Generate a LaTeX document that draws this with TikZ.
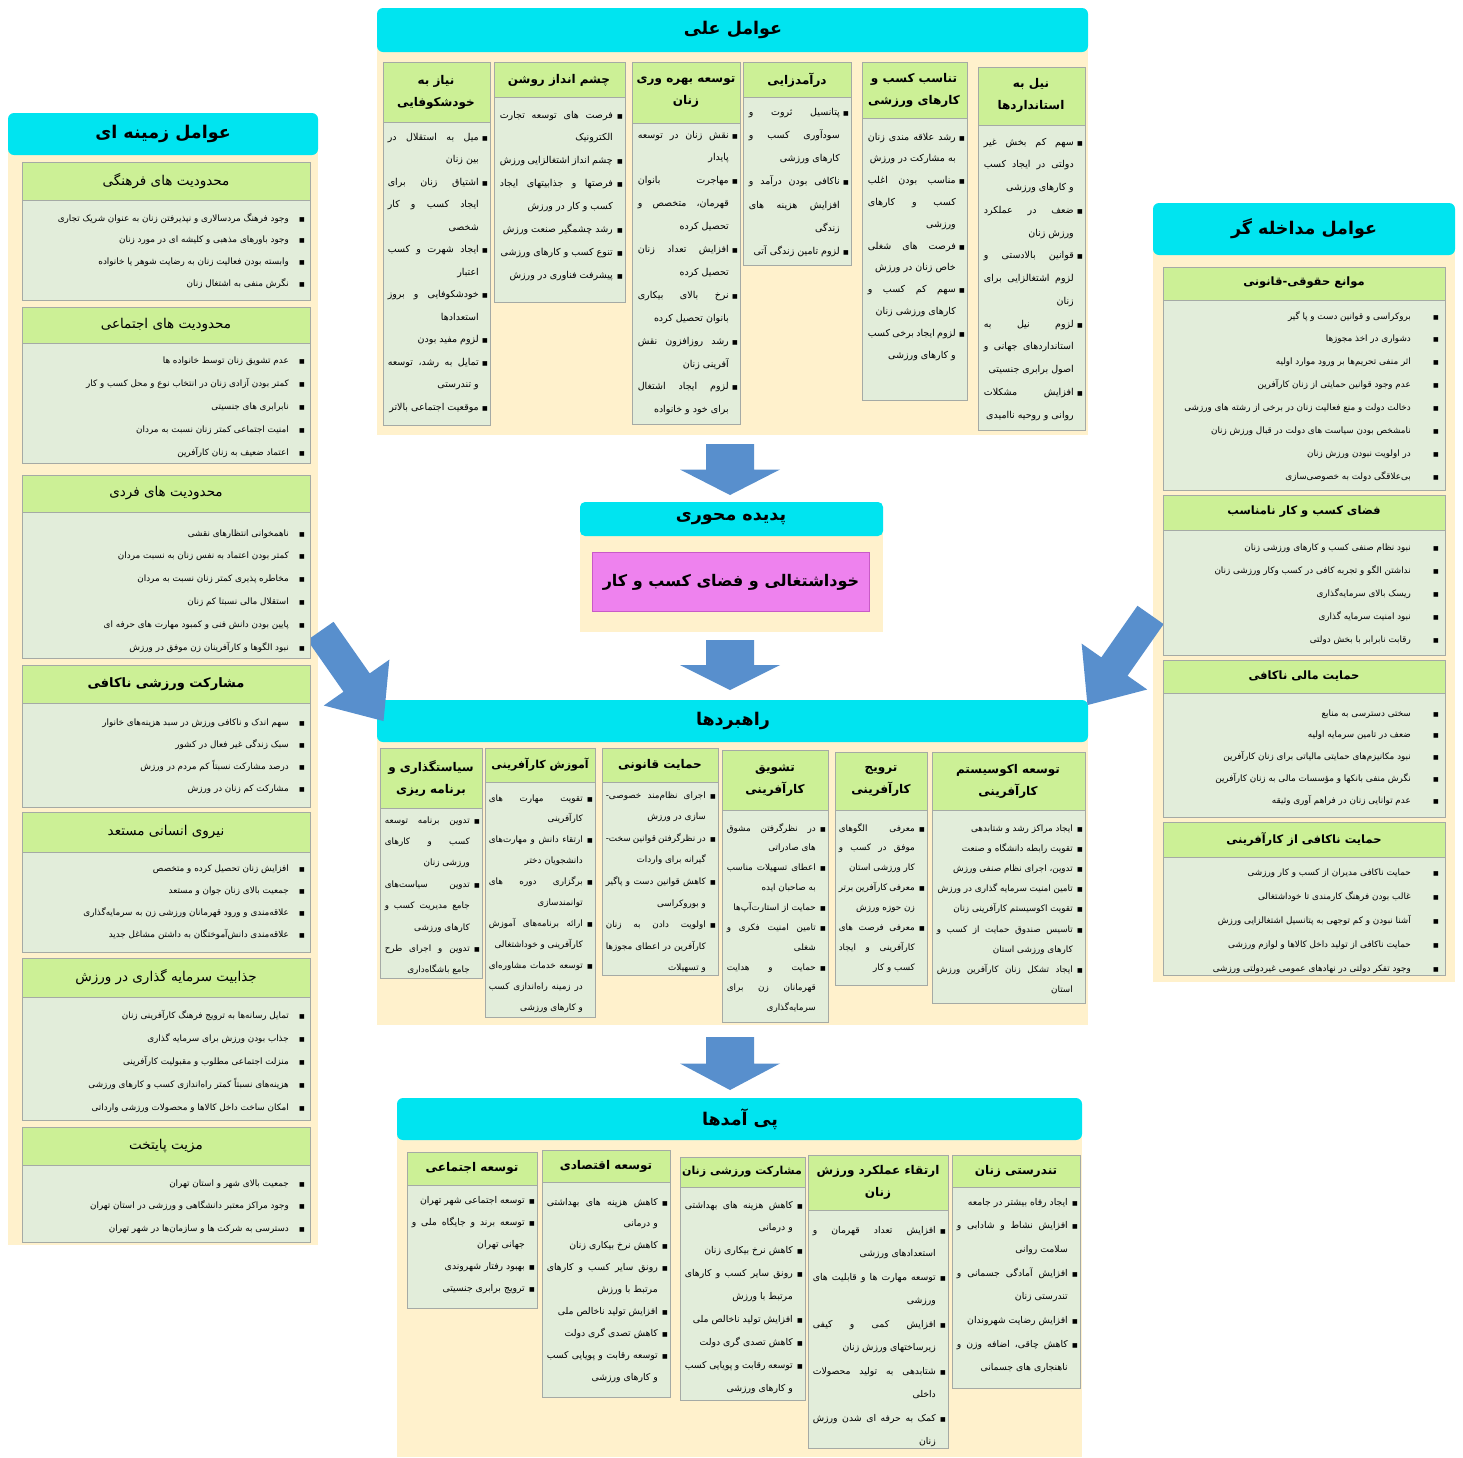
\documentclass[tikz,border=0pt]{standalone}
\usepackage{fontspec}
\TeXXeTstate=1
\newfontfamily\fa[Script=Arabic]{DejaVu Sans}
\definecolor{hcyan}{RGB}{0,228,240}
\definecolor{beige}{RGB}{255,241,204}
\definecolor{ghead}{RGB}{204,240,150}
\definecolor{gbody}{RGB}{226,237,218}
\definecolor{gline}{RGB}{165,170,165}
\definecolor{pinkc}{RGB}{238,130,238}
\definecolor{pinkd}{RGB}{200,90,200}
\definecolor{arrowb}{RGB}{88,143,205}
\newdimen\cw \newdimen\bw \newdimen\tw
\newcommand\setcol[2]{\cw=#1pt\relax\bw=#2pt\relax\tw=\cw\advance\tw by -\bw}
\newcommand\rt[1]{\beginR#1\endR}
\newcommand\bul{{\fontsize{6}{6}\selectfont ■}}
\newcommand\LJ[1]{\hbox to\cw{\hbox to\tw{\beginR#1\endR}\hbox to\bw{\hss\bul}}}
\newcommand\LS[1]{\hbox to\cw{\hbox to\tw{\hfil\beginR#1\endR}\hbox to\bw{\hss\bul}}}
\newcommand\LM[1]{\hbox to\cw{\hbox to\tw{\beginR#1\endR}\hskip\bw}}
\newcommand\LL[1]{\hbox to\cw{\hbox to\tw{\hfil\beginR#1\endR}\hskip\bw}}
\newcommand\colsize{9.5}
% name, x right, baseline y, width, bullet width, baselineskip, lines
\newcommand\coltext[7]{\node[anchor=base east,inner sep=0pt] (#1) at (#2,#3) {\fa\fontsize{\colsize}{\colsize}\selectfont\setcol{#4}{#5}\vtop{\baselineskip=#6pt\lineskiplimit=-100pt\lineskip=0pt #7}};}
\newcommand\sidetext[7]{\node[anchor=base east,inner sep=0pt] (#1) at (#2,#3) {\fa\fontsize{8.8}{8.8}\selectfont\setcol{#4}{#5}\vtop{\baselineskip=#6pt\lineskiplimit=-100pt\lineskip=0pt #7}};}
% xl, xr, ytop, yheadbottom, ybottom
\newcommand\cbox[5]{\fill[ghead] (#1,#3) rectangle (#2,#4); \fill[gbody] (#1,#4) rectangle (#2,#5); \draw[gline] (#1,#3) rectangle (#2,#5); \draw[gline] (#1,#4) -- (#2,#4);}
\newcommand\darrow[3]{\fill[arrowb] (#1-24,#2) -- (#1+24,#2) -- (#1+24,{(#2+#3)/2}) -- (#1+50,{(#2+#3)/2}) -- (#1,#3) -- (#1-50,{(#2+#3)/2}) -- (#1-24,{(#2+#3)/2}) -- cycle;}
\tikzset{
  mainhd/.style={font={\fa\bfseries\fontsize{17.5}{20}\selectfont},inner sep=0pt},
  chd/.style={font={\fa\bfseries\fontsize{12}{22}\selectfont},align=center,inner sep=0pt},
  chds/.style={chd,font={\fa\bfseries\fontsize{11}{22}\selectfont}},
  lhd/.style={font={\fa\fontsize{13.5}{16}\selectfont},inner sep=0pt},
  rhd/.style={font={\fa\bfseries\fontsize{11.5}{16}\selectfont},inner sep=0pt},
}
\begin{document}
\begin{tikzpicture}[x=1pt,y=-1pt]
\useasboundingbox (0,0) rectangle (1463,1457);
\fill[white] (0,0) rectangle (1463,1457);

% ---------- beige bodies and cyan headers ----------
\fill[beige] (377,40) rectangle (1088,435);
\fill[hcyan,rounded corners=6pt] (377,8) rectangle (1088,52);
\node[mainhd] (hcause) at (733,30) {\rt{عوامل علی}};

\fill[beige] (8,140) rectangle (318,1245);
\fill[hcyan,rounded corners=6pt] (8,113) rectangle (318,155);
\node[mainhd] (hcontext) at (163,134) {\rt{عوامل زمینه ای}};

\fill[beige] (1153,240) rectangle (1455,982);
\fill[hcyan,rounded corners=6pt] (1153,203) rectangle (1455,255);
\node[mainhd] (hinterv) at (1304,229) {\rt{عوامل مداخله گر}};

\fill[beige] (580,525) rectangle (883,632);
\fill[hcyan,rounded corners=5pt] (580,502) rectangle (883,536);
\node[mainhd] (hphen) at (731,519) {\rt{پدیده محوری}};
\node[draw=pinkd,fill=pinkc,minimum width=277pt,minimum height=59pt,font={\fa\bfseries\fontsize{16}{20}\selectfont}] (core) at (731,582) {\rt{خوداشتغالی و فضای کسب و کار}};

\fill[beige] (377,730) rectangle (1088,1025);
\fill[hcyan,rounded corners=6pt] (377,700) rectangle (1088,742);
\node[mainhd] (hstrat) at (733,721) {\rt{راهبردها}};

\fill[beige] (397,1128) rectangle (1082,1457);
\fill[hcyan,rounded corners=6pt] (397,1098) rectangle (1082,1140);
\node[mainhd] (hcons) at (740,1119) {\rt{پی آمدها}};

% ---------- arrows ----------
\darrow{730}{444}{495}
\darrow{730}{640}{690}
\darrow{730}{1037}{1090}
\begin{scope}[shift={(352,676)},rotate=-55]
\fill[arrowb] (-55,-16) -- (8,-16) -- (8,-40) -- (55,0) -- (8,40) -- (8,16) -- (-55,16) -- cycle;
\end{scope}
\begin{scope}[shift={(1119,660)},rotate=-125]
\fill[arrowb] (-55,-16) -- (8,-16) -- (8,-40) -- (55,0) -- (8,40) -- (8,16) -- (-55,16) -- cycle;
\end{scope}

% ---------- causal conditions columns ----------
\cbox{978}{1085}{67}{125}{430}
\node[chd] (c1h) at (1031,95) {\rt{نیل به}\\\rt{استانداردها}};
\coltext{c1t}{1083}{145}{99}{9}{22.75}{
\LJ{سهم کم بخش غیر}
\LM{دولتی در ایجاد کسب}
\LL{و کارهای ورزشی}
\LJ{ضعف در عملکرد}
\LL{ورزش زنان}
\LJ{قوانین بالادستی و}
\LM{لزوم اشتغالزایی برای}
\LL{زنان}
\LJ{لزوم نیل به}
\LM{استانداردهای جهانی و}
\LL{اصول برابری جنسیتی}
\LJ{افزایش مشکلات}
\LL{روانی و روحیه ناامیدی}}

\cbox{862}{967}{62}{118}{400}
\node[chd] (c2h) at (914,90) {\rt{تناسب کسب و}\\\rt{کارهای ورزشی}};
\coltext{c2t}{965}{140}{97}{9}{21.8}{
\LJ{رشد علاقه مندی زنان}
\LL{به مشارکت در ورزش}
\LJ{مناسب بودن اغلب}
\LM{کسب و کارهای}
\LL{ورزشی}
\LJ{فرصت های شغلی}
\LL{خاص زنان در ورزش}
\LJ{سهم کم کسب و}
\LL{کارهای ورزشی زنان}
\LJ{لزوم ایجاد برخی کسب}
\LL{و کارهای ورزشی}}

\cbox{743}{851}{62}{97}{265}
\node[chd] (c3h) at (797,80) {\rt{درآمدزایی}};
\coltext{c3t}{849}{115}{100}{9}{23.3}{
\LJ{پتانسیل ثروت و}
\LM{سودآوری کسب و}
\LL{کارهای ورزشی}
\LJ{ناکافی بودن درآمد و}
\LM{افزایش هزینه های}
\LL{زندگی}
\LS{لزوم تامین زندگی آتی}}

\cbox{632}{740}{62}{123}{424}
\node[chd] (c4h) at (686,92) {\rt{توسعه بهره وری}\\\rt{زنان}};
\coltext{c4t}{738}{138}{100}{9}{22.9}{
\LJ{نقش زنان در توسعه}
\LL{پایدار}
\LJ{مهاجرت بانوان}
\LM{قهرمان، متخصص و}
\LL{تحصیل کرده}
\LJ{افزایش تعداد زنان}
\LL{تحصیل کرده}
\LJ{نرخ بالای بیکاری}
\LL{بانوان تحصیل کرده}
\LJ{رشد روزافزون نقش}
\LL{آفرینی زنان}
\LJ{لزوم ایجاد اشتغال}
\LL{برای خود و خانواده}}

\cbox{494}{625}{62}{97}{302}
\node[chd] (c5h) at (559,80) {\rt{چشم انداز روشن}};
\coltext{c5t}{623}{118}{123}{10}{22.9}{
\LJ{فرصت های توسعه تجارت}
\LL{الکترونیک}
\LS{چشم انداز اشتغالزایی ورزش}
\LJ{فرصتها و جذابیتهای ایجاد}
\LL{کسب و کار در ورزش}
\LS{رشد چشمگیر صنعت ورزش}
\LS{تنوع کسب و کارهای ورزشی}
\LS{پیشرفت فناوری در ورزش}}

\cbox{383}{490}{62}{122}{425}
\node[chd] (c6h) at (436,92) {\rt{نیاز به}\\\rt{خودشکوفایی}};
\coltext{c6t}{488}{140}{100}{9}{22.5}{
\LJ{میل به استقلال در}
\LL{بین زنان}
\LJ{اشتیاق زنان برای}
\LM{ایجاد کسب و کار}
\LL{شخصی}
\LJ{ایجاد شهرت و کسب}
\LL{اعتبار}
\LJ{خودشکوفایی و بروز}
\LL{استعدادها}
\LS{لزوم مفید بودن}
\LJ{تمایل به رشد، توسعه}
\LL{و تندرستی}
\LS{موقعیت اجتماعی بالاتر}}

% ---------- strategies columns ----------
\renewcommand\colsize{8.8}
\cbox{932}{1085}{752}{810}{1003}
\node[chd] (s1h) at (1008,781) {\rt{توسعه اکوسیستم}\\\rt{کارآفرینی}};
\coltext{s1t}{1083}{831}{146}{10}{20.2}{
\LS{ایجاد مراکز رشد و شتابدهی}
\LS{تقویت رابطه دانشگاه و صنعت}
\LS{تدوین، اجرای نظام صنفی ورزش}
\LS{تامین امنیت سرمایه گذاری در ورزش}
\LS{تقویت اکوسیستم کارآفرینی زنان}
\LJ{تاسیس صندوق حمایت از کسب و}
\LL{کارهای ورزشی استان}
\LJ{ایجاد تشکل زنان کارآفرین ورزش}
\LL{استان}}

\cbox{835}{927}{752}{810}{985}
\node[chd] (s2h) at (881,781) {\rt{ترویج}\\\rt{کارآفرینی}};
\coltext{s2t}{925}{831}{86}{10}{19.9}{
\LJ{معرفی الگوهای}
\LM{موفق در کسب و}
\LL{کار ورزشی استان}
\LJ{معرفی کارآفرین برتر}
\LL{زن حوزه ورزش}
\LJ{معرفی فرصت های}
\LM{کارآفرینی و ایجاد}
\LL{کسب و کار}}

\cbox{722}{828}{750}{810}{1022}
\node[chd] (s3h) at (775,780) {\rt{تشویق}\\\rt{کارآفرینی}};
\coltext{s3t}{826}{831}{99}{10}{19.9}{
\LJ{در نظرگرفتن مشوق}
\LL{های صادراتی}
\LJ{اعطای تسهیلات مناسب}
\LL{به صاحبان ایده}
\LS{حمایت از استارت‌آپ‌ها}
\LJ{تامین امنیت فکری و}
\LL{شغلی}
\LJ{حمایت و هدایت}
\LM{قهرمانان زن برای}
\LL{سرمایه‌گذاری}}

\cbox{602}{718}{748}{782}{975}
\node[chd] (s4h) at (660,765) {\rt{حمایت قانونی}};
\coltext{s4t}{716}{798}{110}{10}{21.6}{
\LJ{اجرای نظام‌مند خصوصی-}
\LL{سازی در ورزش}
\LJ{در نظرگرفتن قوانین سخت-}
\LL{گیرانه برای واردات}
\LJ{کاهش قوانین دست و پاگیر}
\LL{و بوروکراسی}
\LJ{اولویت دادن به زنان}
\LM{کارآفرین در اعطای مجوزها}
\LL{و تسهیلات}}

\cbox{485}{595}{748}{782}{1017}
\node[chds] (s5h) at (540,765) {\rt{آموزش کارآفرینی}};
\coltext{s5t}{593}{801}{104}{10}{20.9}{
\LJ{تقویت مهارت های}
\LL{کارآفرینی}
\LJ{ارتقاء دانش و مهارت‌های}
\LL{دانشجویان دختر}
\LJ{برگزاری دوره های}
\LL{توانمندسازی}
\LJ{ارائه برنامه‌های آموزش}
\LL{کارآفرینی و خوداشتغالی}
\LJ{توسعه خدمات مشاوره‌ای}
\LM{در زمینه راه‌اندازی کسب}
\LL{و کارهای ورزشی}}

\cbox{380}{482}{748}{808}{978}
\node[chd] (s6h) at (431,778) {\rt{سیاستگذاری و}\\\rt{برنامه ریزی}};
\coltext{s6t}{480}{823}{95}{10}{21.4}{
\LJ{تدوین برنامه توسعه}
\LM{کسب و کارهای}
\LL{ورزشی زنان}
\LJ{تدوین سیاست‌های}
\LM{جامع مدیریت کسب و}
\LL{کارهای ورزشی}
\LJ{تدوین و اجرای طرح}
\LL{جامع باشگاه‌داری}}

% ---------- consequences columns ----------
\renewcommand\colsize{9.3}
\cbox{952}{1080}{1155}{1187}{1388}
\node[chd] (o1h) at (1016,1171) {\rt{تندرستی زنان}};
\coltext{o1t}{1078}{1205}{121}{10}{23.7}{
\LS{ایجاد رفاه بیشتر در جامعه}
\LJ{افزایش نشاط و شادابی و}
\LL{سلامت روانی}
\LJ{افزایش آمادگی جسمانی و}
\LL{تندرستی زنان}
\LS{افزایش رضایت شهروندان}
\LJ{کاهش چاقی، اضافه وزن و}
\LL{ناهنجاری های جسمانی}}

\cbox{808}{948}{1155}{1210}{1448}
\node[chd] (o2h) at (878,1182) {\rt{ارتقاء عملکرد ورزش}\\\rt{زنان}};
\coltext{o2t}{946}{1233}{133}{10}{23.5}{
\LJ{افزایش تعداد قهرمان و}
\LL{استعدادهای ورزشی}
\LJ{توسعه مهارت ها و قابلیت های}
\LL{ورزشی}
\LJ{افزایش کمی و کیفی}
\LL{زیرساختهای ورزش زنان}
\LJ{شتابدهی به تولید محصولات}
\LL{داخلی}
\LJ{کمک به حرفه ای شدن ورزش}
\LL{زنان}}

\cbox{680}{805}{1157}{1187}{1400}
\node[chds] (o3h) at (742,1172) {\rt{مشارکت ورزشی زنان}};
\coltext{o3t}{803}{1208}{118}{10}{22.9}{
\LJ{کاهش هزینه های بهداشتی}
\LL{و درمانی}
\LS{کاهش نرخ بیکاری زنان}
\LJ{رونق سایر کسب و کارهای}
\LL{مرتبط با ورزش}
\LS{افزایش تولید ناخالص ملی}
\LS{کاهش تصدی گری دولت}
\LJ{توسعه رقابت و پویایی کسب}
\LL{و کارهای ورزشی}}

\cbox{542}{670}{1150}{1182}{1397}
\node[chd] (o4h) at (606,1166) {\rt{توسعه اقتصادی}};
\coltext{o4t}{668}{1205}{121}{10}{21.9}{
\LJ{کاهش هزینه های بهداشتی}
\LL{و درمانی}
\LS{کاهش نرخ بیکاری زنان}
\LJ{رونق سایر کسب و کارهای}
\LL{مرتبط با ورزش}
\LS{افزایش تولید ناخالص ملی}
\LS{کاهش تصدی گری دولت}
\LJ{توسعه رقابت و پویایی کسب}
\LL{و کارهای ورزشی}}

\cbox{407}{537}{1152}{1185}{1308}
\node[chd] (o5h) at (472,1168) {\rt{توسعه اجتماعی}};
\coltext{o5t}{535}{1203}{123}{10}{22}{
\LS{توسعه اجتماعی شهر تهران}
\LJ{توسعه برند و جایگاه ملی و}
\LL{جهانی تهران}
\LS{بهبود رفتار شهروندی}
\LS{ترویج برابری جنسیتی}}

% ---------- context sections (left) ----------
\cbox{22}{310}{162}{200}{300}
\node[lhd] (l1h) at (166,181) {\rt{محدودیت های فرهنگی}};
\sidetext{l1t}{305}{221}{277}{16}{21.7}{
\LS{وجود فرهنگ مردسالاری و نپذیرفتن زنان به عنوان شریک تجاری}
\LS{وجود باورهای مذهبی و کلیشه ای در مورد زنان}
\LS{وابسته بودن فعالیت زنان به رضایت شوهر یا خانواده}
\LS{نگرش منفی به اشتغال زنان}}

\cbox{22}{310}{307}{343}{463}
\node[lhd] (l2h) at (166,325) {\rt{محدودیت های اجتماعی}};
\sidetext{l2t}{305}{363}{277}{16}{23}{
\LS{عدم تشویق زنان توسط خانواده ها}
\LS{کمتر بودن آزادی زنان در انتخاب نوع و محل کسب و کار}
\LS{نابرابری های جنسیتی}
\LS{امنیت اجتماعی کمتر زنان نسبت به مردان}
\LS{اعتماد ضعیف به زنان کارآفرین}}

\cbox{22}{310}{475}{512}{658}
\node[lhd] (l3h) at (166,493) {\rt{محدودیت های فردی}};
\sidetext{l3t}{305}{536}{277}{16}{22.8}{
\LS{ناهمخوانی انتظارهای نقشی}
\LS{کمتر بودن اعتماد به نفس زنان به نسبت مردان}
\LS{مخاطره پذیری کمتر زنان نسبت به مردان}
\LS{استقلال مالی نسبتا کم زنان}
\LS{پایین بودن دانش فنی و کمبود مهارت های حرفه ای}
\LS{نبود الگوها و کارآفرینان زن موفق در ورزش}}

\cbox{22}{310}{665}{703}{807}
\node[lhd,font={\fa\bfseries\fontsize{13}{16}\selectfont}] (l4h) at (166,684) {\rt{مشارکت ورزشی ناکافی}};
\sidetext{l4t}{305}{725}{277}{16}{22}{
\LS{سهم اندک و ناکافی ورزش در سبد هزینه‌های خانوار}
\LS{سبک زندگی غیر فعال در کشور}
\LS{درصد مشارکت نسبتاً کم مردم در ورزش}
\LS{مشارکت کم زنان در ورزش}}

\cbox{22}{310}{812}{852}{952}
\node[lhd] (l5h) at (166,832) {\rt{نیروی انسانی مستعد}};
\sidetext{l5t}{305}{871}{277}{16}{22.3}{
\LS{افزایش زنان تحصیل کرده و متخصص}
\LS{جمعیت بالای زنان جوان و مستعد}
\LS{علاقه‌مندی و ورود قهرمانان ورزشی زن به سرمایه‌گذاری}
\LS{علاقه‌مندی دانش‌آموختگان به داشتن مشاغل جدید}}

\cbox{22}{310}{958}{997}{1120}
\node[lhd] (l6h) at (166,977) {\rt{جذابیت سرمایه گذاری در ورزش}};
\sidetext{l6t}{305}{1018}{277}{16}{23}{
\LS{تمایل رسانه‌ها به ترویج فرهنگ کارآفرینی زنان}
\LS{جذاب بودن ورزش برای سرمایه گذاری}
\LS{منزلت اجتماعی مطلوب و مقبولیت کارآفرینی}
\LS{هزینه‌های نسبتاً کمتر راه‌اندازی کسب و کارهای ورزشی}
\LS{امکان ساخت داخل کالاها و محصولات ورزشی وارداتی}}

\cbox{22}{310}{1127}{1165}{1242}
\node[lhd] (l7h) at (166,1146) {\rt{مزیت پایتخت}};
\sidetext{l7t}{305}{1186}{277}{16}{22.5}{
\LS{جمعیت بالای شهر و استان تهران}
\LS{وجود مراکز معتبر دانشگاهی و ورزشی در استان تهران}
\LS{دسترسی به شرکت ها و سازمان‌ها در شهر تهران}}

% ---------- intervening sections (right) ----------
\cbox{1163}{1445}{267}{300}{490}
\node[rhd] (r1h) at (1304,283) {\rt{موانع حقوقی-قانونی}};
\sidetext{r1t}{1439}{319}{274}{28}{22.9}{
\LS{بروکراسی و قوانین دست و پا گیر}
\LS{دشواری در اخذ مجوزها}
\LS{اثر منفی تحریم‌ها بر ورود موارد اولیه}
\LS{عدم وجود قوانین حمایتی از زنان کارآفرین}
\LS{دخالت دولت و منع فعالیت زنان در برخی از رشته های ورزشی}
\LS{نامشخص بودن سیاست های دولت در قبال ورزش زنان}
\LS{در اولویت نبودن ورزش زنان}
\LS{بی‌علاقگی دولت به خصوصی‌سازی}}

\cbox{1163}{1445}{495}{530}{655}
\node[rhd] (r2h) at (1304,512) {\rt{فضای کسب و کار نامناسب}};
\sidetext{r2t}{1439}{550}{274}{28}{23}{
\LS{نبود نظام صنفی کسب و کارهای ورزشی زنان}
\LS{نداشتن الگو و تجربه کافی در کسب وکار ورزشی زنان}
\LS{ریسک بالای سرمایه‌گذاری}
\LS{نبود امنیت سرمایه گذاری}
\LS{رقابت نابرابر با بخش دولتی}}

\cbox{1163}{1445}{660}{693}{817}
\node[rhd] (r3h) at (1304,676) {\rt{حمایت مالی ناکافی}};
\sidetext{r3t}{1439}{716}{274}{28}{21.75}{
\LS{سختی دسترسی به منابع}
\LS{ضعف در تامین سرمایه اولیه}
\LS{نبود مکانیزم‌های حمایتی مالیاتی برای زنان کارآفرین}
\LS{نگرش منفی بانکها و مؤسسات مالی به زنان کارآفرین}
\LS{عدم توانایی زنان در فراهم آوری وثیقه}}

\cbox{1163}{1445}{822}{857}{975}
\node[rhd] (r4h) at (1304,839) {\rt{حمایت ناکافی از کارآفرینی}};
\sidetext{r4t}{1439}{875}{274}{28}{24}{
\LS{حمایت ناکافی مدیران از کسب و کار ورزشی}
\LS{غالب بودن فرهنگ کارمندی تا خوداشتغالی}
\LS{آشنا نبودن و کم توجهی به پتانسیل اشتغالزایی ورزش}
\LS{حمایت ناکافی از تولید داخل کالاها و لوازم ورزشی}
\LS{وجود تفکر دولتی در نهادهای عمومی غیردولتی ورزشی}}
\end{tikzpicture}
\end{document}
